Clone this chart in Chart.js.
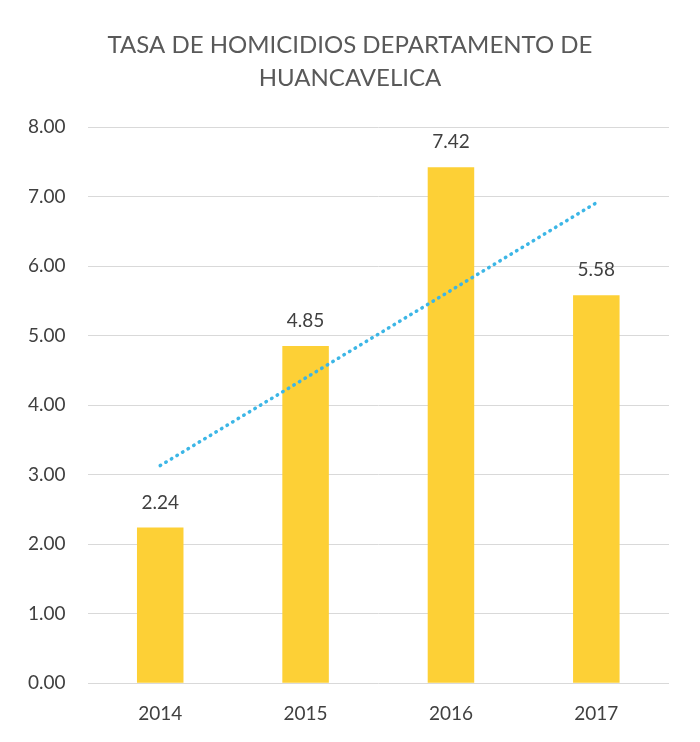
<!DOCTYPE html>
<html>
<head>
<meta charset="utf-8">
<script src="https://cdn.jsdelivr.net/npm/chart.js@4"></script>
<style>
  body { margin: 0; background: #fff; }
  #wrap { width: 700px; height: 742px; position: relative; }
</style>
</head>
<body>
<div id="wrap"><canvas id="myChart" width="700" height="742"></canvas></div>
<script>
const years = ['2014', '2015', '2016', '2017'];
const tasa = [2.24, 4.85, 7.42, 5.58];
// dotted trend line
const tendencia = [3.13, 4.39, 5.65, 6.91];
const titleLines = ['TASA DE HOMICIDIOS DEPARTAMENTO DE', 'HUANCAVELICA'];

// value above each bar
const barLabels = {
  id: 'barLabels',
  afterDatasetsDraw(chart) {
    const ctx = chart.ctx;
    const meta = chart.getDatasetMeta(1);
    ctx.save();
    ctx.font = '19px Lato';
    ctx.fillStyle = '#404040';
    ctx.textAlign = 'center';
    ctx.textBaseline = 'middle';
    meta.data.forEach((bar, i) => {
      ctx.fillText(tasa[i].toFixed(2), bar.x, bar.y - 25);
    });
    ctx.restore();
  }
};

// title centred on the whole picture, not the plot
const pageTitle = {
  id: 'pageTitle',
  afterDraw(chart) {
    const ctx = chart.ctx;
    ctx.save();
    ctx.font = '24px Lato';
    ctx.fillStyle = '#595959';
    ctx.textAlign = 'center';
    ctx.textBaseline = 'middle';
    titleLines.forEach((t, i) => ctx.fillText(t, chart.width / 2, 45 + i * 33.5));
    ctx.restore();
  }
};

const ctx = document.getElementById('myChart');
new Chart(ctx, {
  data: {
    labels: years,
    datasets: [
      {
        type: 'line',
        data: tendencia,
        borderColor: '#3cb6e6',
        borderWidth: 3.5,
        borderDash: [0.5, 6],
        borderCapStyle: 'round',
        pointRadius: 0,
        fill: false,
        order: 0
      },
      {
        type: 'bar',
        data: tasa,
        backgroundColor: '#fdd036',
        categoryPercentage: 1,
        barPercentage: 0.32,
        order: 1
      }
    ]
  },
  options: {
    responsive: false,
    animation: false,
    layout: { padding: { left: 6, right: 31, top: 127, bottom: 6 } },
    plugins: {
      legend: { display: false },
      tooltip: { enabled: false },
      title: { display: false }
    },
    scales: {
      y: {
        min: 0,
        max: 8,
        ticks: {
          stepSize: 1,
          color: '#404040',
          font: { family: 'Lato', size: 19 },
          padding: 22,
          callback: v => v.toFixed(2)
        },
        grid: { color: '#d9d9d9', drawTicks: false },
        border: { display: false }
      },
      x: {
        ticks: {
          color: '#404040',
          font: { family: 'Lato', size: 19 },
          padding: 11
        },
        grid: { display: false },
        border: { display: false }
      }
    }
  },
  plugins: [barLabels, pageTitle]
});
</script>
</body>
</html>
